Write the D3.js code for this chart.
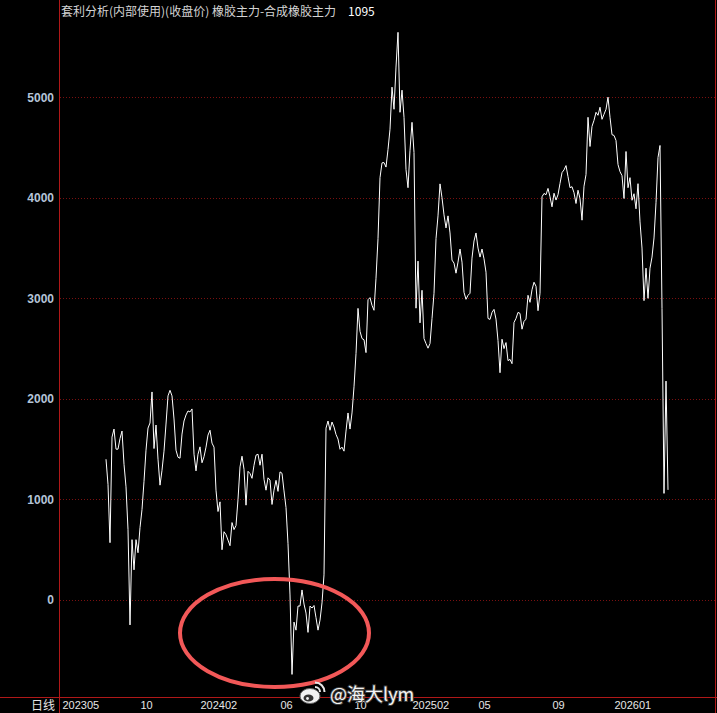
<!DOCTYPE html>
<html>
<head>
<meta charset="utf-8">
<script src="https://cdn.jsdelivr.net/npm/d3@7"></script>
<style>
  html, body { margin: 0; padding: 0; background: #000; }
  svg { display: block; }
</style>
</head>
<body>
<div id="chart"></div>
<script>
// daily close of the spread, one reading about every 2 trading days
let spread = [
  1400, 1150, 570, 1620, 1700, 1500, 1500, 1605, 1680, 1350,
  1125, 700, -248, 600, 300, 600, 470, 720, 900, 1180,
  1490, 1710, 1760, 2069, 1506, 1740, 1400, 1142, 1290, 1480,
  1750, 2030, 2085, 2030, 1800, 1490, 1420, 1410, 1650, 1780,
  1840, 1880, 1870, 1900, 1450, 1284, 1450, 1523, 1365, 1425,
  1520, 1640, 1688, 1560, 1520, 1092, 880, 976, 500, 679,
  650, 596, 540, 770, 700, 740, 1000, 1324, 1430, 1300,
  943, 1280, 1258, 1210, 1340, 1440, 1450, 1340, 1450, 1200,
  1092, 1215, 1192, 950, 1092, 1190, 1080, 1274, 1260, 1085,
  920, 560, 50, -740, -220, -300, -60, -60, 100, -40,
  -130, -322, -60, -80, -55, -176, -300, -200, -29, 250,
  1709, 1780, 1688, 1770, 1720, 1646, 1600, 1499, 1520, 1480,
  1680, 1860, 1700, 1860, 2120, 2450, 2900, 2672, 2600, 2588,
  2460, 2986, 3007, 2930, 2881, 3200, 3593, 4200, 4347, 4350,
  4305, 4480, 4682, 5100, 4880, 5300, 5645, 4850, 5070, 4800,
  4280, 4100, 4473, 4750, 4450, 2902, 3370, 2756, 3080, 2600,
  2550, 2504, 2550, 2798, 3050, 3593, 3820, 4138, 4000, 3830,
  3700, 3820, 3650, 3380, 3350, 3250, 3360, 3490, 3360, 3060,
  2990, 3030, 3050, 3400, 3570, 3650, 3500, 3410, 3490, 3393,
  3260, 2800, 2790, 2860, 2890, 2793, 2580, 2260, 2593, 2500,
  2560, 2380, 2393, 2350, 2760, 2800, 2860, 2850, 2693, 2770,
  2793, 3030, 2960, 3085, 3160, 3120, 2877, 3050, 4010, 4043,
  4030, 4093, 4010, 3910, 4045, 3977, 4030, 4143, 4250, 4277,
  4320, 4210, 4100, 4110, 4050, 3943, 4075, 3993, 3777, 4115,
  4230, 4800, 4510, 4710, 4770, 4850, 4820, 4900, 4780, 4830,
  4880, 5000, 4800, 4627, 4620, 4570, 4330, 4260, 4220, 3993,
  4460, 4100, 4200, 3975, 4040, 3890, 4140, 3760, 3500, 2977,
  3300, 3000, 3300, 3410, 3600, 3950, 4400, 4520, 2900, 1060,
  2177, 1095
];
// the synthetic rubber contract only starts trading at this slot
let firstSlot = 23;
let totalSlots = 327;

let monthLabels = ["202305", "10", "202402", "06", "10", "202502", "05", "09", "202601"];
let monthSlots = [1, 40, 70, 110, 147, 176, 209, 246, 277];
let yTicks = [0, 1000, 2000, 3000, 4000, 5000];

let title = "套利分析(内部使用)(收盘价) 橡胶主力-合成橡胶主力";
let lastValue = 1095;
let watermark = "@海大lym";

var width = 717, height = 713;
var plotLeft = 59, plotRight = 715, axisY = 697;
var frameColor = "#b01818";

var svg = d3.select("#chart").append("svg")
    .attr("width", width)
    .attr("height", height)
    .style("background", "#000");

// scales
var x = d3.scaleLinear()
    .domain([0, totalSlots])
    .range([plotLeft + 1, plotRight - 1]);
var y = d3.scaleLinear()
    .domain([0, 5000])
    .range([600, 97.2]);

// dotted grid
svg.append("g")
  .selectAll("line")
  .data(yTicks)
  .enter().append("line")
    .attr("x1", plotLeft + 1)
    .attr("x2", plotRight)
    .attr("y1", function(d) { return Math.round(y(d)) + 0.5; })
    .attr("y2", function(d) { return Math.round(y(d)) + 0.5; })
    .attr("stroke", "#7a1010")
    .attr("stroke-dasharray", "1,2");

// y axis labels
var yAxis = svg.append("g")
    .attr("transform", "translate(" + plotLeft + ",0)")
    .call(d3.axisLeft(y).tickValues(yTicks).tickFormat(d3.format("d")).tickSize(0).tickPadding(5));
yAxis.select(".domain").remove();
yAxis.selectAll("text")
    .attr("fill", "#b4c4d8")
    .style("font", "bold 12px 'Liberation Sans', Arial, sans-serif");

// the spread line
var line = d3.line()
    .x(function(d, i) { return x(firstSlot + i); })
    .y(function(d) { return y(d); });

svg.append("path")
    .datum(spread)
    .attr("fill", "none")
    .attr("stroke", "#ffffff")
    .attr("stroke-width", 1)
    .attr("d", line);

// frame lines
svg.append("line")
    .attr("x1", plotLeft + 0.5).attr("x2", plotLeft + 0.5)
    .attr("y1", 0).attr("y2", height)
    .attr("stroke", frameColor);
svg.append("line")
    .attr("x1", plotRight + 0.5).attr("x2", plotRight + 0.5)
    .attr("y1", 0).attr("y2", height)
    .attr("stroke", frameColor);
svg.append("line")
    .attr("x1", 0).attr("x2", width)
    .attr("y1", axisY + 0.5).attr("y2", axisY + 0.5)
    .attr("stroke", frameColor);

// x axis labels
var xAxis = svg.append("g")
    .attr("transform", "translate(0," + axisY + ")")
    .call(d3.axisBottom(x)
      .tickValues(monthSlots)
      .tickFormat(function(d, i) { return monthLabels[i]; })
      .tickSize(0)
      .tickPadding(4));
xAxis.select(".domain").remove();
xAxis.selectAll("text")
    .attr("text-anchor", "start")
    .attr("fill", "#e6e6e6")
    .style("font", "11px 'Liberation Sans', Arial, sans-serif");

svg.append("text")
    .attr("x", 55)
    .attr("y", 710)
    .attr("text-anchor", "end")
    .attr("fill", "#e6e6e6")
    .style("font", "12px 'Noto Sans CJK SC', sans-serif")
    .text("日线");

// title
var titleText = svg.append("text")
    .attr("x", 61)
    .attr("y", 16)
    .style("font", "12px 'Noto Sans CJK SC', sans-serif")
    .attr("fill", "#d4d4d4")
    .text(title);
titleText.append("tspan")
    .attr("dx", 12)
    .attr("fill", "#ffffff")
    .text(lastValue);

// hand drawn red ellipse
svg.append("ellipse")
    .attr("cx", 274.5)
    .attr("cy", 633)
    .attr("rx", 94.5)
    .attr("ry", 54)
    .attr("fill", "none")
    .attr("stroke", "#f25858")
    .attr("stroke-width", 4);

// watermark
var wm = svg.append("g");
wm.append("ellipse")
    .attr("cx", 310).attr("cy", 696).attr("rx", 10).attr("ry", 7.5)
    .attr("fill", "#f2f2f2").attr("stroke", "#666").attr("stroke-width", 1);
wm.append("ellipse")
    .attr("cx", 308.5).attr("cy", 698).attr("rx", 5).attr("ry", 3.6)
    .attr("fill", "#333");
wm.append("circle")
    .attr("cx", 307.5).attr("cy", 698.5).attr("r", 1.4)
    .attr("fill", "#f2f2f2");
wm.append("path")
    .attr("d", "M315,687 a5,5 0 0,1 5,5")
    .attr("fill", "none").attr("stroke", "#e8e8e8").attr("stroke-width", 2);
wm.append("path")
    .attr("d", "M315,682.5 a9.5,9.5 0 0,1 9.5,9.5")
    .attr("fill", "none").attr("stroke", "#e8e8e8").attr("stroke-width", 2);
wm.append("text")
    .attr("x", 330)
    .attr("y", 701)
    .attr("fill", "#f4f4f4")
    .attr("stroke", "rgba(70,70,70,0.9)")
    .attr("stroke-width", 2)
    .attr("paint-order", "stroke")
    .style("font", "18px 'Noto Sans CJK SC', sans-serif")
    .text(watermark);
</script>
</body>
</html>
